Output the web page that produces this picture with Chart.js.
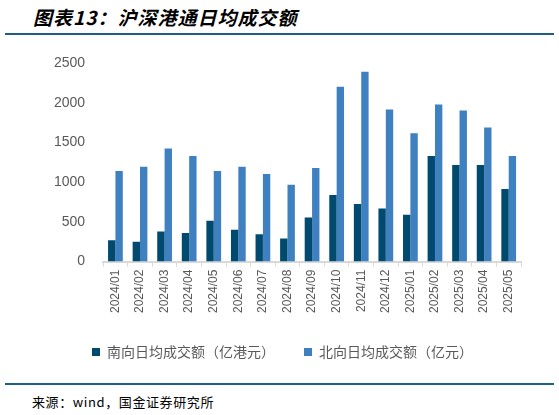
<!DOCTYPE html>
<html>
<head>
<meta charset="utf-8">
<script src="https://cdn.jsdelivr.net/npm/chart.js@4"></script>
<style>
    body { margin: 0; background: #fff; }
    #page { position: relative; width: 559px; height: 415px; overflow: hidden; }
    #title {
        position: absolute; left: 33px; top: 3px;
        font-family: "Noto Sans CJK SC", sans-serif;
        font-size: 19px; font-weight: bold; font-style: italic;
        color: #000; white-space: nowrap; letter-spacing: 1px;
    }
    .rule { position: absolute; left: 5px; width: 549px; height: 2px; background: #1f5f85; }
    #source {
        position: absolute; left: 32px; top: 392px;
        font-family: "Noto Sans CJK SC", "DejaVu Sans Mono", monospace;
        font-size: 13px; color: #000; white-space: nowrap; letter-spacing: 0.6px;
    }
    #wrap { position: absolute; left: 0; top: 40px; width: 559px; height: 329px; }
</style>
</head>
<body>
<div id="page">
    <div id="title">图表13：沪深港通日均成交额</div>
    <div class="rule" style="top:33px"></div>
    <div id="wrap"><canvas id="chart"></canvas></div>
    <div class="rule" style="top:383px"></div>
    <div id="source">来源：wind，国金证券研究所</div>
</div>
<script>
// months on the x axis
const months = ['2024/01', '2024/02', '2024/03', '2024/04', '2024/05', '2024/06', '2024/07', '2024/08',
    '2024/09', '2024/10', '2024/11', '2024/12', '2025/01', '2025/02', '2025/03', '2025/04', '2025/05'];

// 南向日均成交额 (亿港元)
const southbound = [270, 250, 380, 360, 515, 400, 345, 290, 556, 837, 724, 669, 589, 1330, 1216, 1216, 913];

// 北向日均成交额 (亿元)
const northbound = [1140, 1195, 1423, 1330, 1140, 1195, 1103, 968, 1178, 2201, 2390, 1915, 1616, 1978, 1902, 1688, 1330];

const yTicks = [0, 500, 1000, 1500, 2000, 2500];

const ctx = document.getElementById('chart');
new Chart(ctx, {
    type: 'bar',
    data: {
        labels: months,
        datasets: [{
            label: '南向日均成交额（亿港元）',
            data: southbound,
            backgroundColor: '#004a70',
            categoryPercentage: 0.6,
            barPercentage: 1
        }, {
            label: '北向日均成交额（亿元）',
            data: northbound,
            backgroundColor: '#3f80c1',
            categoryPercentage: 0.6,
            barPercentage: 1
        }]
    },
    options: {
        responsive: true,
        maintainAspectRatio: false,
        animation: false,
        layout: {
            padding: { left: 44, right: 38, top: 23, bottom: 0 }
        },
        plugins: {
            tooltip: { enabled: false },
            legend: {
                position: 'bottom',
                labels: {
                    boxWidth: 8,
                    boxHeight: 8,
                    padding: 29,
                    color: '#595959',
                    font: { family: '"Noto Sans CJK SC", sans-serif', size: 14 }
                }
            }
        },
        scales: {
            x: {
                grid: {
                    offset: true,
                    drawOnChartArea: false,
                    drawTicks: true,
                    tickLength: 5,
                    color: '#d9d9d9'
                },
                border: { color: '#d9d9d9', width: 2 },
                ticks: {
                    minRotation: 90,
                    maxRotation: 90,
                    autoSkip: false,
                    color: '#595959',
                    padding: 3,
                    font: { family: '"Liberation Sans", Arial, sans-serif', size: 12 }
                }
            },
            y: {
                min: 0,
                max: 2500,
                afterBuildTicks: function (axis) {
                    axis.ticks = yTicks.map(v => ({ value: v }));
                },
                grid: { display: false },
                border: { display: false },
                ticks: {
                    color: '#595959',
                    padding: 10,
                    callback: function (value) { return String(value); },
                    font: { family: '"Liberation Sans", Arial, sans-serif', size: 14 }
                }
            }
        }
    }
});
</script>
</body>
</html>
